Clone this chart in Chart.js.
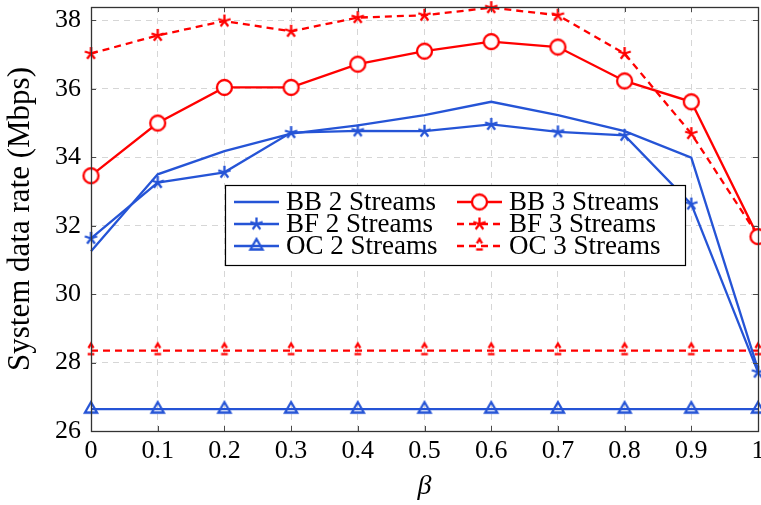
<!DOCTYPE html>
<html>
<head>
<meta charset="utf-8">
<script src="https://cdn.jsdelivr.net/npm/chart.js@4.4.0/dist/chart.umd.min.js"></script>
<style>
  html, body { margin: 0; padding: 0; background: #fff; }
  #wrap { width: 761px; height: 505px; }
</style>
</head>
<body>
<div id="wrap"><canvas id="c" width="761" height="505"></canvas></div>
<script>
// beta values on the horizontal axis and their tick labels
const betaValues = [0, 0.1, 0.2, 0.3, 0.4, 0.5, 0.6, 0.7, 0.8, 0.9, 1];
const xTickLabels = ['0', '0.1', '0.2', '0.3', '0.4', '0.5', '0.6', '0.7', '0.8', '0.9', '1'];
const yTickValues = [26, 28, 30, 32, 34, 36, 38];

// System data rate (Mbps) per scheme
const bb2 = [31.25, 33.50, 34.18, 34.69, 34.93, 35.23, 35.62, 35.23, 34.76, 33.99, 27.80];
const bf2 = [31.63, 33.26, 33.56, 34.72, 34.77, 34.76, 34.96, 34.74, 34.64, 32.63, 27.72];
const oc2 = [26.64, 26.64, 26.64, 26.64, 26.64, 26.64, 26.64, 26.64, 26.64, 26.64, 26.64];
const bb3 = [33.46, 35.00, 36.04, 36.04, 36.72, 37.10, 37.38, 37.22, 36.23, 35.62, 31.68];
const bf3 = [37.03, 37.56, 37.98, 37.68, 38.08, 38.15, 38.37, 38.15, 37.03, 34.69, 31.70];
const oc3 = [28.35, 28.35, 28.35, 28.35, 28.35, 28.35, 28.35, 28.35, 28.35, 28.35, 28.35];

const seriesLabels = ['BB 2 Streams', 'BF 2 Streams', 'OC 2 Streams', 'BB 3 Streams', 'BF 3 Streams', 'OC 3 Streams'];

const BLUE = 'rgb(37, 84, 214)';
const RED = 'rgb(255, 0, 0)';
const LW = 2.3;
const DASH = [7, 5];
const FONT = '"Liberation Serif", "Times New Roman", serif';

// ---- marker images ----
function makeCanvas(size) {
  const c = document.createElement('canvas');
  c.width = size; c.height = size;
  return c;
}
function starMarker(color, r) {
  const s = Math.ceil(2 * r + 6);
  const c = makeCanvas(s);
  const g = c.getContext('2d');
  g.translate(s / 2, s / 2);
  g.strokeStyle = color; g.lineWidth = LW; g.lineCap = 'butt';
  g.beginPath();
  for (let k = 0; k < 5; k++) {
    const a = -Math.PI / 2 + k * 2 * Math.PI / 5;
    g.moveTo(0, 0);
    g.lineTo(r * Math.cos(a), r * Math.sin(a));
  }
  g.stroke();
  return c;
}
function circleMarker(color, r) {
  const s = Math.ceil(2 * r + 6);
  const c = makeCanvas(s);
  const g = c.getContext('2d');
  g.translate(s / 2, s / 2);
  g.fillStyle = '#fff';
  g.strokeStyle = color; g.lineWidth = LW;
  g.beginPath(); g.arc(0, 0, r, 0, Math.PI * 2); g.fill(); g.stroke();
  return c;
}
function triangleMarker(color, r, dashed) {
  const s = Math.ceil(2 * r + 6);
  const c = makeCanvas(s);
  const g = c.getContext('2d');
  g.translate(s / 2, s / 2);
  g.strokeStyle = color; g.lineWidth = LW; g.lineJoin = 'miter';
  const hx = r * Math.sin(Math.PI / 3);
  const top = [0, -r], bl = [-hx, r / 2], br = [hx, r / 2];
  if (!dashed) {
    g.beginPath();
    g.moveTo(top[0], top[1]); g.lineTo(br[0], br[1]); g.lineTo(bl[0], bl[1]); g.closePath();
    g.stroke();
  } else {
    const t = 0.42;
    g.beginPath();
    g.moveTo(top[0] + (bl[0] - top[0]) * t, top[1] + (bl[1] - top[1]) * t);
    g.lineTo(top[0], top[1]);
    g.lineTo(top[0] + (br[0] - top[0]) * t, top[1] + (br[1] - top[1]) * t);
    g.stroke();
    g.beginPath();
    g.moveTo(-hx * 0.55, r / 2); g.lineTo(hx * 0.55, r / 2);
    g.stroke();
  }
  return c;
}

const markers = [
  null,
  starMarker(BLUE, 6.5),
  triangleMarker(BLUE, 7, false),
  circleMarker(RED, 7.5),
  starMarker(RED, 6.5),
  triangleMarker(RED, 7, true)
];
const colors = [BLUE, BLUE, BLUE, RED, RED, RED];
const dashes = [[], [], [], [], DASH, DASH];
const values = [bb2, bf2, oc2, bb3, bf3, oc3];

const datasets = values.map((vals, i) => ({
  label: seriesLabels[i],
  data: betaValues.map((b, j) => ({ x: b, y: vals[j] })),
  borderColor: colors[i],
  backgroundColor: colors[i],
  borderWidth: LW,
  borderDash: dashes[i],
  tension: 0,
  fill: false,
  clip: false,
  pointStyle: markers[i] || 'circle',
  pointRadius: markers[i] ? 7 : 0,
  pointHoverRadius: markers[i] ? 7 : 0
}));

// ---- frame, inward ticks and the boxed legend ----
const framePlugin = {
  id: 'frame',
  afterDraw(chart) {
    const { ctx, chartArea: a, scales } = chart;
    ctx.save();
    // inward tick marks on all four sides
    ctx.strokeStyle = '#4a4a4a';
    ctx.lineWidth = 1;
    ctx.beginPath();
    const tl = 5;
    betaValues.forEach(v => {
      const x = Math.round(scales.x.getPixelForValue(v)) + 0.5;
      ctx.moveTo(x, a.bottom); ctx.lineTo(x, a.bottom - tl);
      ctx.moveTo(x, a.top); ctx.lineTo(x, a.top + tl);
    });
    yTickValues.forEach(v => {
      const y = Math.round(scales.y.getPixelForValue(v)) + 0.5;
      ctx.moveTo(a.left, y); ctx.lineTo(a.left + tl, y);
      ctx.moveTo(a.right, y); ctx.lineTo(a.right - tl, y);
    });
    ctx.stroke();
    // axis box
    ctx.strokeStyle = '#333';
    ctx.lineWidth = 1.3;
    ctx.strokeRect(Math.round(a.left) + 0.5, Math.round(a.top) + 0.5,
                   Math.round(a.right - a.left), Math.round(a.bottom - a.top));
    ctx.restore();
  },
  afterDatasetsDraw(chart) {
    const { ctx } = chart;
    const box = { x: 225, y: 185, w: 460, h: 80 };
    ctx.save();
    ctx.fillStyle = '#fff';
    ctx.fillRect(box.x, box.y, box.w, box.h);
    ctx.strokeStyle = '#000';
    ctx.lineWidth = 1.2;
    ctx.strokeRect(box.x + 0.5, box.y + 0.5, box.w, box.h);
    const rowsY = [202, 224, 246];
    const colX = [234, 457];
    ctx.font = '27px ' + FONT;
    ctx.textBaseline = 'middle';
    ctx.fillStyle = '#000';
    chart.data.datasets.forEach((ds, i) => {
      const col = Math.floor(i / 3), row = i % 3;
      const x0 = colX[col], y = rowsY[row];
      ctx.save();
      ctx.strokeStyle = ds.borderColor;
      ctx.lineWidth = LW;
      ctx.setLineDash(ds.borderDash || []);
      ctx.beginPath();
      ctx.moveTo(x0, y); ctx.lineTo(x0 + 45, y);
      ctx.stroke();
      ctx.restore();
      const m = markers[i];
      if (m) ctx.drawImage(m, x0 + 22.5 - m.width / 2, y - m.height / 2);
      ctx.fillText(ds.label, x0 + 52, y + 1);
    });
    ctx.restore();
  }
};

new Chart(document.getElementById('c'), {
  type: 'line',
  data: { datasets },
  options: {
    responsive: false,
    animation: false,
    devicePixelRatio: 1,
    layout: { autoPadding: false, padding: { top: 7, right: 3, left: 0, bottom: 0 } },
    plugins: { legend: { display: false }, tooltip: { enabled: false } },
    scales: {
      x: {
        type: 'linear',
        min: 0, max: 1,
        afterBuildTicks: s => { s.ticks = betaValues.map(v => ({ value: v })); },
        afterFit: s => { s.height = 74; s.paddingLeft = 0; s.paddingRight = 0; },
        ticks: {
          callback: (v, i) => xTickLabels[i],
          color: '#000',
          font: { family: FONT, size: 26 },
          padding: 5,
          maxRotation: 0,
          autoSkip: false
        },
        grid: { color: '#d6d6d6', lineWidth: 1, drawTicks: false },
        border: { display: false, dash: [6, 5] },
        title: {
          display: true,
          text: 'β',
          color: '#000',
          font: { family: FONT, size: 28, style: 'italic' },
          padding: { top: 0, bottom: 2 }
        }
      },
      y: {
        type: 'linear',
        min: 26, max: 38.39,
        afterBuildTicks: s => { s.ticks = yTickValues.map(v => ({ value: v })); },
        afterFit: s => { s.width = 91; s.paddingTop = 0; s.paddingBottom = 0; },
        ticks: {
          callback: v => String(v),
          color: '#000',
          font: { family: FONT, size: 26 },
          padding: 10,
          autoSkip: false
        },
        grid: { color: '#d6d6d6', lineWidth: 1, drawTicks: false },
        border: { display: false, dash: [6, 5] },
        title: {
          display: true,
          text: 'System data rate (Mbps)',
          color: '#000',
          font: { family: FONT, size: 31 },
          padding: { top: 2, bottom: 0 }
        }
      }
    }
  },
  plugins: [framePlugin]
});
</script>
</body>
</html>
